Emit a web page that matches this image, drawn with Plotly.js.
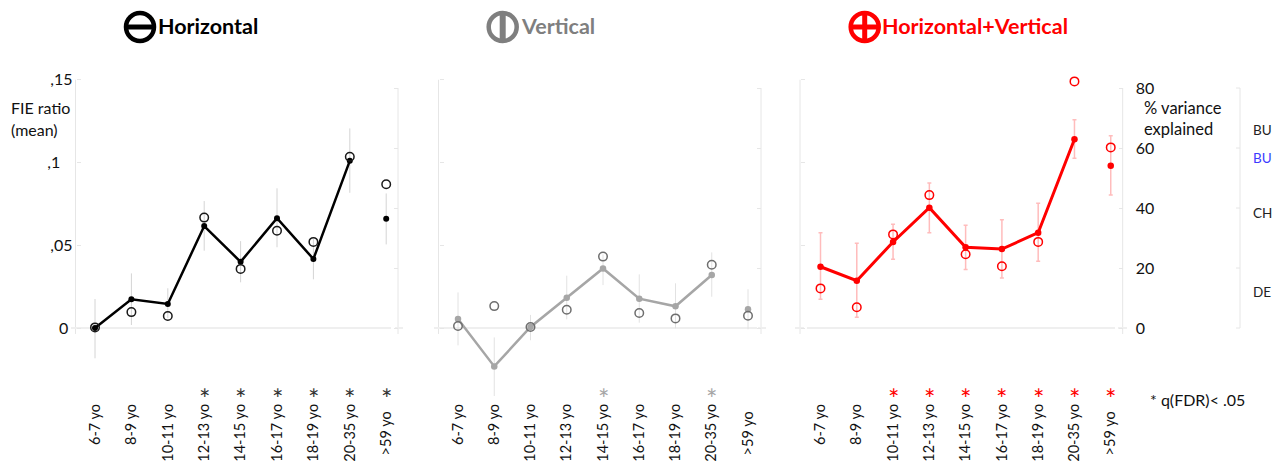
<!DOCTYPE html>
<html><head><meta charset="utf-8">
<script src="https://cdn.plot.ly/plotly-3.0.1.min.js"></script>
<style>html,body{margin:0;padding:0;background:#fff}#c{width:1276px;height:462px}</style>
</head><body><div id="c"></div>
<script>
const categories = ["6-7 yo","8-9 yo","10-11 yo","12-13 yo","14-15 yo","16-17 yo","18-19 yo","20-35 yo",">59 yo"];
const tickLabels = ["6-7 yo","8-9 yo","10-11 yo","12-13 yo","14-15 yo","16-17 yo","18-19 yo","20-35 yo",">59 yo\u00a0\u00a0"];
const fieTicks = [0,0.05,0.1,0.15];
const fieTickText = ["0\u00a0",",05",",1\u00a0\u00a0\u00a0",",15"];
const varTicks = [0,20,40,60,80];

const hMean = [0,0.0173,0.0145,0.0616,0.04,0.0663,0.0417,0.101,0.066];
const hUp   = [0.0175,0.0157,0.0095,0.0151,0.0125,0.0181,0.0121,0.0196,0.0153];
const hDown = [0.0183,0.0155,0.0085,0.0149,0.0124,0.0175,0.0123,0.0193,0.0155];
const hVar  = [0.2,5.3,4,36.8,19.7,32.4,28.7,57.1,47.9];
const hSig  = [3,4,5,6,7,8];

const vMean = [0.0054,-0.0232,0.0006,0.0183,0.036,0.0177,0.0131,0.032,0.0113];
const vUp   = [0.0161,0.0175,0.0073,0.0133,0.0085,0.0147,0.0139,0.0137,0.0121];
const vDown = [0.0159,0.0179,0.008,0.0131,0.0101,0.0145,0.0133,0.0131,0.0121];
const vVar  = [0.67,7.3,0.33,6.1,23.8,5,3.2,21.1,4.1];
const vSig  = [4,7];

const hvMean = [0.037,0.0286,0.052,0.0727,0.0488,0.0477,0.0576,0.114,0.098];
const hvUp   = [0.0205,0.0226,0.0107,0.0149,0.0133,0.0177,0.0178,0.0118,0.0181];
const hvDown = [0.0197,0.0221,0.0105,0.0151,0.0135,0.0175,0.0173,0.0115,0.0177];
const hvVar  = [13.2,6.9,31.2,44.3,24.6,20.6,28.7,82.2,60.2];
const hvSig  = [2,3,4,5,6,7,8];

const W=1276,H=462;
const px=x=>x/W, py=y=>1-y/H;
const FONT="Lato, 'Open Sans', sans-serif";
const TXT="#111", AX="#e6e6e6";
const TOP=70, BOT=400;
const fieRange=[(328-BOT)/1655,(328-TOP)/1655];
const varRange=[(328-BOT)/3,(328-TOP)/3];

const panels=[
 {n:1,yl:"y",yr:"y2",ylk:"yaxis",yrk:"yaxis2",xk:"xaxis",xr:"x",x0:95,dx:36.4,l:72,r:398,axL:75.5,axR:398,zero:[[71,391],[395,403]],
  mean:hMean,up:hUp,down:hDown,vari:hVar,sig:hSig,line:"#000",lw:2.5,ms:6,err:"#d4d4d4",ew:1,cap:0,open:"#1a1a1a",star:"#333"},
 {n:2,yl:"y3",yr:"y4",ylk:"yaxis3",yrk:"yaxis4",xk:"xaxis2",xr:"x2",x0:458,dx:36.25,l:434,r:761,axL:438.5,axR:761,zero:[[434,757],[758,766]],
  mean:vMean,up:vUp,down:vDown,vari:vVar,sig:vSig,line:"#a6a6a6",lw:2.5,ms:6.5,err:"#e2e2e2",ew:1,cap:0,open:"#6e6e6e",star:"#a6a6a6"},
 {n:3,yl:"y5",yr:"y6",ylk:"yaxis5",yrk:"yaxis6",xk:"xaxis3",xr:"x3",x0:820.5,dx:36.28,l:795,r:1122.7,axL:800,axR:1122.7,zero:[[795,804],[807,1115],[1118,1127]],
  mean:hvMean,up:hvUp,down:hvDown,vari:hvVar,sig:hvSig,line:"#ff0000",lw:3,ms:6.5,err:"#ffbcbc",ew:1.5,cap:2,open:"#ff0000",star:"#ff0000"}
];

const traces=[], shapes=[], annotations=[];
const layout={width:W,height:H,margin:{l:0,r:0,t:0,b:0},paper_bgcolor:"#fff",plot_bgcolor:"rgba(0,0,0,0)",showlegend:false,font:{family:FONT,size:15,color:TXT}};

function lineShape(x0,y0,x1,y1,color,width,xref,yref){
  shapes.push({type:"line",layer:"below",xref:xref||"paper",yref:yref||"paper",x0,y0,x1,y1,line:{color,width}});
}

panels.forEach((p,i)=>{
  const right=p.r+8;
  const xr0=(p.l-p.x0)/p.dx, xr1=(right-p.x0)/p.dx;
  layout[p.xk]={domain:[px(p.l),px(right)],range:[xr0,xr1],type:"category",categoryorder:"array",categoryarray:categories,
    tickmode:"array",tickvals:categories,ticktext:tickLabels,tickangle:-90,ticks:"",showgrid:false,zeroline:false,showline:false,
    anchor:p.yl,side:"bottom",tickfont:{family:FONT,size:14.5,color:TXT},automargin:false};
  layout[p.ylk]={domain:[py(BOT),py(TOP)],range:fieRange,anchor:"free",position:px(p.axL),side:"left",
    tickmode:"array",tickvals:fieTicks,ticktext:fieTickText,ticks:"inside",ticklen:4,tickcolor:AX,tickwidth:1,
    showticklabels:i===0,showgrid:false,zeroline:false,showline:false,tickfont:{family:FONT,size:16,color:TXT},ticklabelstandoff:3,automargin:false};
  layout[p.yrk]={domain:[py(BOT),py(TOP)],range:varRange,anchor:"free",position:px(p.axR),side:"right",overlaying:p.yl,
    tickmode:"array",tickvals:varTicks,ticks:"inside",ticklen:4,tickcolor:AX,tickwidth:1,
    showticklabels:i===2,showgrid:false,zeroline:false,showline:false,tickfont:{family:FONT,size:16,color:"#111"},ticklabelstandoff:12,automargin:false};

  lineShape(px(p.axL),0.15,px(p.axL),-0.0036,AX,1,"paper",p.yl);
  lineShape(px(p.axR),80,px(p.axR),-2,AX,1,"paper",p.yr);
  p.zero.forEach(z=>lineShape(px(z[0]),0,px(z[1]),0,"#efefef",2,"paper",p.yl));

  const err={type:"data",symmetric:false,color:p.err,thickness:p.ew,width:p.cap};
  traces.push({type:"scatter",mode:"lines+markers",x:categories.slice(0,8),y:p.mean.slice(0,8),xaxis:p.xr,yaxis:p.yl,cliponaxis:false,
    line:{color:p.line,width:p.lw},marker:{color:p.line,size:p.ms},
    error_y:{...err,array:p.up.slice(0,8),arrayminus:p.down.slice(0,8)}});
  traces.push({type:"scatter",mode:"markers",x:categories.slice(8),y:p.mean.slice(8),xaxis:p.xr,yaxis:p.yl,cliponaxis:false,
    marker:{color:p.line,size:p.ms},error_y:{...err,array:p.up.slice(8),arrayminus:p.down.slice(8)}});
  traces.push({type:"scatter",mode:"markers",x:categories,y:p.vari,xaxis:p.xr,yaxis:p.yr,cliponaxis:false,
    marker:{symbol:"circle-open",color:p.open,size:8.5,line:{color:p.open,width:1.5}}});

  p.sig.forEach(k=>annotations.push({xref:p.xr,yref:"paper",x:categories[k],y:py(398),text:"*",showarrow:false,
    font:{family:FONT,size:27,color:p.star},xanchor:"center",yanchor:"middle"}));
});

lineShape(px(1240),80,px(1240),0,AX,1,"paper","y6");
varTicks.forEach(t=>lineShape(px(1236),t,px(1240),t,AX,1,"paper","y6"));

function ring(cx,color){
  shapes.push({type:"circle",xref:"paper",yref:"paper",x0:px(cx-14),x1:px(cx+14),y0:py(41),y1:py(13),line:{color,width:4.5},fillcolor:"rgba(0,0,0,0)"});
}
function bar(x0,y0,x1,y1,color,w){shapes.push({type:"line",xref:"paper",yref:"paper",x0:px(x0),x1:px(x1),y0:py(y0),y1:py(y1),line:{color,width:w}});}
ring(140,"#000"); bar(126,27,154,27,"#000",5);
ring(502.7,"#7f7f7f"); bar(502.7,13,502.7,41,"#7f7f7f",6);
ring(864.7,"#ff0000"); bar(851,27,879,27,"#ff0000",5); bar(864.7,13,864.7,41,"#ff0000",5);

function label(x,y,text,opts){
  annotations.push(Object.assign({xref:"paper",yref:"paper",x:px(x),y:py(y),text,showarrow:false,xanchor:"left",yanchor:"middle",
    font:{family:FONT,size:16,color:TXT}},opts||{}));
}
const bold=(c)=>({font:{family:FONT,size:21.5,color:c,weight:700}});
label(156,26,"<b>Horizontal</b>",bold("#000"));
label(519,26,"<b>Vertical</b>",bold("#7f7f7f"));
label(880,26,"<b>Horizontal+Vertical</b>",bold("#ff0000"));
label(9,107,"FIE ratio");
label(9,129,"(mean)");
label(1142,108,"% variance",{font:{family:FONT,size:16.5,color:"#111"}});
label(1142,129,"explained",{font:{family:FONT,size:16.5,color:"#111"}});
label(1251,130,"BU",{font:{family:FONT,size:13.5,color:"#222"}});
label(1251,158,"BU",{font:{family:FONT,size:13.5,color:"#3b3bff"}});
label(1251,213,"CH",{font:{family:FONT,size:13.5,color:"#222"}});
label(1251,292,"DE",{font:{family:FONT,size:13.5,color:"#222"}});
label(1148,399,"* q(FDR)< .05",{font:{family:FONT,size:16,color:"#111"}});

layout.shapes=shapes; layout.annotations=annotations;
Plotly.newPlot("c",traces,layout,{displayModeBar:false,staticPlot:true});
</script></body></html>
